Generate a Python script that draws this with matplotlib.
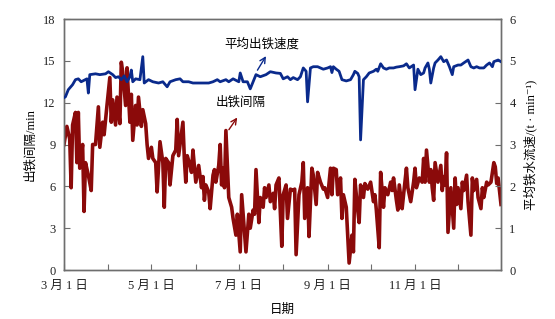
import matplotlib
matplotlib.use("Agg")
import matplotlib.pyplot as plt
import matplotlib.dates as mdates
import pandas as pd
from matplotlib.ticker import FuncFormatter

plt.rcParams["font.family"] = ["Liberation Serif", "Noto Sans CJK SC", "DejaVu Sans"]

START = pd.Timestamp("2021-03-01")

# tapping interval, min (left axis); day offsets from 1 March
interval_day = [0, 2, 4, 5, 6, 8, 9, 10, 11, 13, 14, 15, 17, 19, 20, 22, 24, 25, 27, 28,
                30, 32, 33, 34, 36, 37, 39, 40, 41, 43, 44, 46, 47, 48, 50, 51, 52, 54, 55, 57,
                58, 59, 61, 62, 64, 65, 67, 69, 70, 71, 73, 74, 76, 78, 79, 80, 83, 84, 85, 86,
                88, 89, 90, 92, 94, 96, 97, 98, 99, 101, 102, 104, 105, 106, 108, 109, 110, 111, 112, 113,
                115, 117, 118, 120, 121, 123, 124, 125, 127, 129, 130, 132, 133, 134, 136, 137, 139, 140, 141, 143,
                144, 146, 147, 148, 150, 152, 153, 155, 156, 158, 160, 161, 162, 164, 166, 167, 168, 170, 171, 173,
                174, 176, 177, 179, 181, 182, 184, 186, 187, 188, 190, 191, 193, 194, 195, 197, 198, 199, 201, 202,
                203, 205, 206, 207, 209, 210, 212, 214, 216, 217, 218, 220, 221, 223, 224, 226, 228, 229, 230, 232,
                233, 234, 236, 237, 239, 240, 242, 244, 245, 246, 248, 250, 251, 252, 253, 255, 256, 257, 258, 259,
                261, 263, 264, 265, 266, 267, 268, 270, 272, 273, 274, 275, 277, 278, 279, 281, 282, 284, 285, 286,
                288, 289, 291, 292, 293, 295, 296, 298, 300, 301, 302, 303, 305]
interval_min = [9.0, 10.3, 9.4, 5.9, 10.4, 11.3, 7.7, 11.3, 7.3, 9.0, 4.2, 7.7, 6.8, 5.7, 9.0, 9.0, 11.7, 8.8, 10.6, 9.7,
                11.8, 13.8, 10.6, 12.2, 10.4, 12.4, 10.5, 14.9, 14.2, 11.8, 14.5, 10.6, 12.6, 9.3, 11.8, 10.4, 12.4, 10.3, 11.5, 10.5,
                9.0, 8.0, 8.8, 8.0, 7.7, 5.6, 9.2, 7.7, 4.5, 8.0, 7.7, 6.1, 8.2, 8.6, 10.8, 8.2, 10.6, 8.0, 6.3, 8.2,
                7.5, 7.0, 8.6, 6.3, 7.5, 5.9, 6.7, 5.0, 6.1, 5.6, 4.4, 6.8, 7.2, 6.3, 7.5, 9.0, 6.1, 7.3, 5.9, 10.0,
                5.2, 4.5, 3.7, 2.5, 4.0, 1.3, 5.4, 4.0, 1.3, 4.0, 3.0, 4.3, 4.0, 7.2, 3.4, 5.2, 4.5, 5.9, 5.2, 6.1,
                4.9, 5.5, 4.4, 6.1, 6.6, 1.7, 5.4, 6.1, 3.7, 5.8, 5.7, 5.8, 1.1, 5.4, 6.3, 7.7, 3.7, 5.9, 2.4, 7.3,
                6.8, 4.7, 7.0, 6.3, 5.8, 5.9, 5.2, 7.3, 5.4, 7.3, 7.2, 5.4, 6.6, 3.7, 5.4, 4.5, 2.5, 0.5, 2.5, 1.3,
                6.5, 4.3, 3.4, 6.1, 5.2, 6.2, 5.8, 6.3, 4.9, 5.4, 4.3, 1.6, 7.0, 4.5, 5.9, 5.4, 6.3, 5.7, 6.6, 5.0,
                4.3, 6.1, 4.4, 5.4, 7.3, 5.9, 4.9, 6.3, 7.3, 5.9, 6.6, 6.3, 8.0, 6.3, 8.6, 6.3, 7.2, 5.9, 5.0, 7.7,
                6.3, 7.5, 5.7, 6.7, 6.1, 8.4, 2.7, 5.9, 3.0, 6.6, 4.7, 5.9, 4.4, 6.3, 5.7, 6.8, 4.9, 2.5, 6.6, 5.7,
                6.5, 5.2, 4.4, 5.9, 5.2, 6.3, 6.1, 6.3, 7.7, 7.4, 6.2, 6.6, 4.7]

# mean tapping speed, t/min (right axis)
speed_day = [0, 1, 3, 6, 8, 10, 12, 16, 17, 18, 22, 25, 29, 31, 34, 36, 38, 40, 42, 44,
             46, 47, 48, 50, 53, 55, 56, 59, 62, 66, 69, 72, 74, 78, 81, 83, 87, 90, 94, 97,
             101, 104, 107, 109, 113, 115, 118, 122, 123, 125, 128, 130, 132, 134, 137, 141, 144, 148, 151, 153,
             156, 158, 160, 163, 165, 167, 169, 170, 172, 174, 177, 179, 181, 184, 186, 187, 188, 190, 192, 194,
             197, 200, 202, 203, 205, 206, 207, 209, 211, 213, 216, 218, 219, 221, 223, 225, 227, 230, 232, 234,
             237, 239, 241, 244, 245, 247, 249, 251, 252, 254, 255, 256, 258, 259, 261, 263, 265, 267, 269, 271,
             272, 275, 277, 279, 282, 284, 286, 288, 290, 293, 295, 297, 299, 300, 303, 305]
speed_t = [4.12, 4.14, 4.31, 4.43, 4.55, 4.57, 4.50, 4.57, 4.23, 4.67, 4.69, 4.67, 4.69, 4.74, 4.67, 4.60, 4.62, 4.55, 4.64, 4.50,
           4.62, 4.78, 4.50, 4.57, 4.55, 5.10, 4.47, 4.55, 4.50, 4.47, 4.50, 4.38, 4.50, 4.55, 4.57, 4.50, 4.50, 4.47, 4.47, 4.47,
           4.47, 4.50, 4.55, 4.50, 4.55, 4.50, 4.57, 4.50, 4.71, 4.50, 4.50, 4.33, 4.50, 4.67, 4.62, 4.67, 4.74, 4.71, 4.70, 4.57,
           4.62, 4.55, 4.60, 4.55, 4.62, 4.83, 4.75, 4.02, 4.83, 4.86, 4.86, 4.83, 4.80, 4.83, 4.86, 4.72, 4.86, 4.80, 4.75, 4.55,
           4.52, 4.55, 4.67, 4.75, 4.70, 4.62, 3.11, 4.55, 4.62, 4.71, 4.75, 4.80, 4.75, 4.93, 4.83, 4.80, 4.83, 4.83, 4.85, 4.86,
           4.88, 4.93, 4.83, 4.90, 4.31, 4.80, 4.67, 4.71, 4.83, 4.95, 4.80, 4.47, 4.83, 4.95, 5.02, 5.10, 4.98, 5.02, 4.86, 4.67,
           4.86, 4.90, 4.90, 4.95, 5.02, 4.86, 4.83, 4.86, 4.83, 4.83, 4.90, 4.95, 4.86, 4.98, 5.02, 4.98]

RED = "#8b0a0a"
BLUE = "#0a2a8c"
GRAY = "#6e6e6e"


def month_label(value, pos):
    d = mdates.num2date(value)
    if d.month % 2 == 1 and d.month != 1:
        return f"{d.month} 月 1 日"
    return ""


def main() -> int:
    x_interval = START + pd.to_timedelta(interval_day, unit="D")
    x_speed = START + pd.to_timedelta(speed_day, unit="D")

    fig = plt.figure(figsize=(5.55, 3.19), dpi=100)
    ax = fig.add_axes([0.1153, 0.1536, 0.7874, 0.7868])
    ax2 = ax.twinx()

    ax.plot(x_interval, interval_min, color=RED, lw=2.6, zorder=2)
    ax2.plot(x_speed, speed_t, color=BLUE, lw=2.0, zorder=3)

    ax.set_xlim(START, pd.Timestamp("2021-12-31"))
    ax.set_ylim(0, 18)
    ax.set_yticks(range(0, 19, 3))
    ax2.set_ylim(0, 6)
    ax2.set_yticks(range(0, 7))

    ax.xaxis.set_major_locator(mdates.MonthLocator(bymonthday=1))
    ax.xaxis.set_major_formatter(FuncFormatter(month_label))

    for a in (ax, ax2):
        for s in a.spines.values():
            s.set_color(GRAY)
            s.set_linewidth(1.0)
        a.tick_params(direction="in", length=4, width=0.8, color=GRAY,
                      labelsize=9, labelcolor="#222222")
    ax.tick_params(axis="x", pad=7)
    ax.tick_params(axis="y", pad=6)
    ax2.tick_params(axis="y", pad=6)

    ax.set_xlabel("日期", fontsize=9, labelpad=9)
    ax.set_ylabel("出铁间隔/min", fontsize=9, labelpad=5)
    ax2.set_ylabel("平均铁水流速/(t · min\u207b\u00b9)", fontsize=9, labelpad=6)

    ax2.annotate("平均出铁速度", xy=(START + pd.Timedelta(days=138), 5.4),
                 fontsize=9, ha="center", va="center", annotation_clip=False)
    ax2.annotate("", xy=(START + pd.Timedelta(days=142), 5.17),
                 xytext=(START + pd.Timedelta(days=134), 4.72),
                 arrowprops=dict(arrowstyle="->", color=BLUE, lw=1.0))
    ax.annotate("出铁间隔", xy=(START + pd.Timedelta(days=123), 12.0),
                fontsize=9, ha="center", va="center")
    ax.annotate("", xy=(START + pd.Timedelta(days=122), 11.1),
                xytext=(START + pd.Timedelta(days=114), 9.9),
                arrowprops=dict(arrowstyle="->", color=RED, lw=1.0))

    fig.savefig("out.png", dpi=100)
    plt.close(fig)
    return 0


if __name__ == "__main__":
    raise SystemExit(main())
